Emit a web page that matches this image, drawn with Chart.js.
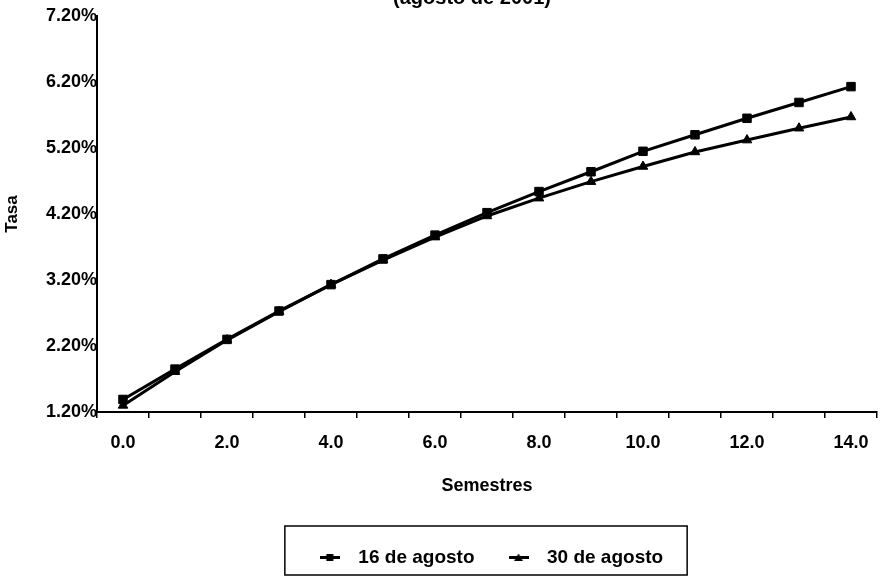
<!DOCTYPE html>
<html>
<head>
<meta charset="utf-8">
<title>Tasa por semestres</title>
<script src="https://cdn.jsdelivr.net/npm/chart.js@4.4.1/dist/chart.umd.min.js"></script>
<style>
  html, body { margin: 0; padding: 0; background: #fff; }
  #wrap { width: 884px; height: 578px; position: relative; }
</style>
</head>
<body>
<div id="wrap"><canvas id="grafica"></canvas></div>
<script>
const semestres = [0, 1, 2, 3, 4, 5, 6, 7, 8, 9, 10, 11, 12, 13, 14];
const tasa16Agosto = [1.39, 1.85, 2.30, 2.73, 3.13, 3.52, 3.88, 4.22, 4.54, 4.84, 5.15, 5.40, 5.65, 5.89, 6.13];
const tasa30Agosto = [1.30, 1.81, 2.29, 2.72, 3.13, 3.50, 3.85, 4.17, 4.44, 4.69, 4.92, 5.14, 5.32, 5.50, 5.67];
const ticksTasa = [1.2, 2.2, 3.2, 4.2, 5.2, 6.2, 7.2];
const titulo = '(agosto de 2001)';

const fuente = '"Liberation Sans", Arial, Helvetica, sans-serif';
Chart.defaults.font.family = fuente;
Chart.defaults.font.size = 18;
Chart.defaults.font.weight = 'bold';
Chart.defaults.color = '#000';

// muestra de la leyenda: trazo corto con el marcador al centro
const muestraLeyenda = (forma) => {
    const c = document.createElement('canvas');
    c.width = 20;
    c.height = 9;
    const ctx = c.getContext('2d');
    ctx.strokeStyle = '#000';
    ctx.lineWidth = 3;
    ctx.beginPath();
    ctx.moveTo(0, 4.5);
    ctx.lineTo(20, 4.5);
    ctx.stroke();
    ctx.fillStyle = '#000';
    if(forma === 'rect'){
        ctx.fillRect(6.5, 1, 7, 7);
    } else {
        ctx.beginPath();
        ctx.moveTo(10, 0.5);
        ctx.lineTo(14.5, 8);
        ctx.lineTo(5.5, 8);
        ctx.closePath();
        ctx.fill();
    }
    return c;
}
const muestras = [muestraLeyenda('rect'), muestraLeyenda('triangle')];

// recuadro alrededor de la leyenda
const marcoLeyenda = {
    id: 'marcoLeyenda',
    afterDraw(chart){
        const lg = chart.legend;
        const cajas = lg.legendHitBoxes;
        if(!cajas || !cajas.length) return;
        const ult = cajas[cajas.length - 1];
        const izq = cajas[0].left - 26;
        const der = ult.left + ult.width + 24;
        const ctx = chart.ctx;
        ctx.save();
        ctx.strokeStyle = '#000';
        ctx.lineWidth = 1.5;
        ctx.strokeRect(izq, lg.top + 3, der - izq, lg.bottom - lg.top - 5);
        ctx.restore();
    }
}

// el título queda recortado por el borde superior
const tituloCortado = {
    id: 'tituloCortado',
    afterDraw(chart){
        const ctx = chart.ctx;
        ctx.save();
        ctx.font = 'bold 20px ' + fuente;
        ctx.fillStyle = '#000';
        ctx.textAlign = 'center';
        ctx.textBaseline = 'alphabetic';
        ctx.fillText(titulo, 472, 4);
        ctx.restore();
    }
}

new Chart('grafica', {
    type: 'line',
    data: {
        labels: semestres,
        datasets: [{
            label: '16 de agosto',
            data: tasa16Agosto,
            borderColor: '#000',
            backgroundColor: '#000',
            borderWidth: 3,
            pointStyle: 'rect',
            pointRadius: 6,
            pointBorderWidth: 1,
            pointBackgroundColor: '#000',
            pointBorderColor: '#000',
            tension: 0
        }, {
            label: '30 de agosto',
            data: tasa30Agosto,
            borderColor: '#000',
            backgroundColor: '#000',
            borderWidth: 3,
            pointStyle: 'triangle',
            pointRadius: 5.5,
            pointBorderWidth: 1,
            pointBackgroundColor: '#000',
            pointBorderColor: '#000',
            tension: 0
        }]
    },
    options: {
        responsive: true,
        maintainAspectRatio: false,
        animation: false,
        layout: { padding: { top: 16, right: 3, bottom: 1, left: 0 } },
        plugins: {
            tooltip: { enabled: false },
            title: { display: false },
            legend: {
                position: 'bottom',
                fullSize: false,
                labels: {
                    usePointStyle: true,
                    pointStyleWidth: 38,
                    padding: 25,
                    color: '#000',
                    font: { size: 19, weight: 'bold' },
                    generateLabels: (chart) => chart.data.datasets.map((ds, i) => ({
                        text: ds.label,
                        pointStyle: muestras[i],
                        datasetIndex: i,
                        fillStyle: '#000',
                        strokeStyle: '#000',
                        lineWidth: 0,
                        hidden: false
                    }))
                }
            }
        },
        scales: {
            x: {
                offset: true,
                grid: {
                    display: true,
                    drawOnChartArea: false,
                    drawTicks: true,
                    tickLength: 6,
                    offset: true,
                    color: '#000',
                    lineWidth: 1.5
                },
                border: { display: true, color: '#000', width: 2 },
                ticks: {
                    autoSkip: false,
                    maxRotation: 0,
                    padding: 14,
                    color: '#000',
                    font: { size: 18, weight: 'bold' },
                    callback: (v, i) => i % 2 === 0 ? semestres[i].toFixed(1) : ''
                },
                title: {
                    display: true,
                    text: 'Semestres',
                    color: '#000',
                    font: { size: 18, weight: 'bold' },
                    padding: { top: 0, bottom: 26 }
                },
                afterFit: (s) => { s.height = 111; }
            },
            y: {
                min: 1.2,
                max: 7.2,
                grid: { display: false, drawTicks: false },
                border: { display: true, color: '#000', width: 2 },
                afterBuildTicks: (s) => { s.ticks = ticksTasa.map(v => ({ value: v })); },
                ticks: {
                    padding: 0,
                    color: '#000',
                    font: { size: 18, weight: 'bold' },
                    callback: (v) => Number(v).toFixed(2) + '%'
                },
                title: {
                    display: true,
                    text: 'Tasa',
                    color: '#000',
                    font: { size: 17, weight: 'bold' },
                    padding: { top: 2, bottom: 0 }
                },
                afterFit: (s) => { s.width = 97; }
            }
        }
    },
    plugins: [marcoLeyenda, tituloCortado]
});
</script>
</body>
</html>
